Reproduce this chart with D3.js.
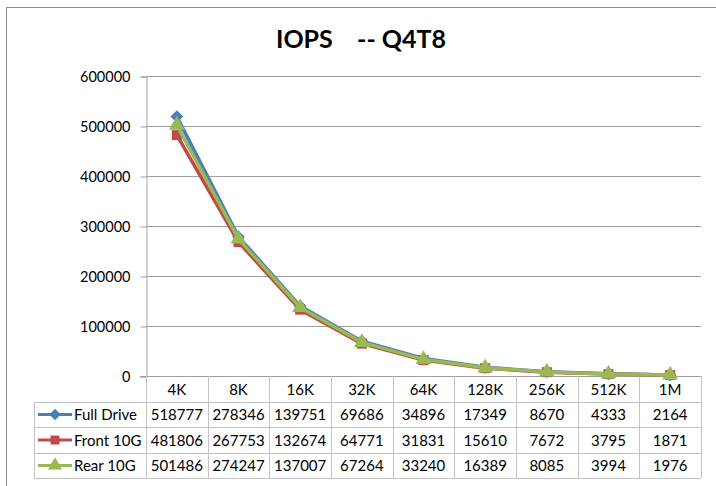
<!DOCTYPE html>
<html>
<head>
<meta charset="utf-8">
<script src="https://d3js.org/d3.v7.min.js"></script>
<style>
  body { margin: 0; background: #fff; }
  text { font-family: Lato, "Open Sans", sans-serif; fill: #000; }
</style>
</head>
<body>
<div id="my_dataviz"></div>
<script>

// data
var blockSizes = ["4K", "8K", "16K", "32K", "64K", "128K", "256K", "512K", "1M"];
var fullDrive = [518777, 278346, 139751, 69686, 34896, 17349, 8670, 4333, 2164];
var front10G  = [481806, 267753, 132674, 64771, 31831, 15610, 7672, 3795, 1871];
var rear10G   = [501486, 274247, 137007, 67264, 33240, 16389, 8085, 3994, 1976];
var seriesNames = ["Full Drive", "Front 10G", "Rear 10G"];
var yTicks = [0, 100000, 200000, 300000, 400000, 500000, 600000];

var seriesValues = [fullDrive, front10G, rear10G];
var colors = ["#4a7ebb", "#be4b48", "#98b954"];
// diamond = rotated square
var symbols = [d3.symbolSquare, d3.symbolSquare, d3.symbolTriangle];
var symbolRot = [45, 0, 0];
var symbolSizes = [80, 100, 110];

var W = 716, H = 486;
var svg = d3.select("#my_dataviz")
  .append("svg")
  .attr("width", W)
  .attr("height", H);

// chart frame (runs off the right and bottom edge)
svg.append("rect")
  .attr("x", 6.5).attr("y", 7.5)
  .attr("width", 730).attr("height", 500)
  .attr("fill", "#fff")
  .attr("stroke", "#8c8c8c")
  .attr("stroke-width", 1);

// title
svg.append("text")
  .attr("x", 361)
  .attr("y", 48)
  .attr("text-anchor", "middle")
  .style("font-size", "25px")
  .style("font-weight", "bold")
  .style("white-space", "pre")
  .text("IOPS    -- Q4T8");

// scales
var plotLeft = 146, plotRight = 701, plotTop = 76, plotBottom = 376;
var x = d3.scaleBand()
  .domain(blockSizes)
  .range([plotLeft, plotRight])
  .padding(0);
var y = d3.scaleLinear()
  .domain([0, 600000])
  .range([plotBottom, plotTop]);

// gridlines
svg.append("g")
  .selectAll("line")
  .data(yTicks.filter(function(d) { return d > 0; }))
  .enter()
  .append("line")
  .attr("x1", plotLeft).attr("x2", plotRight)
  .attr("y1", function(d) { return Math.round(y(d)) + 0.5; })
  .attr("y2", function(d) { return Math.round(y(d)) + 0.5; })
  .attr("stroke", "#9f9f9f")
  .attr("stroke-width", 1);

// y axis
var yAxis = svg.append("g")
  .attr("transform", "translate(" + (plotLeft + 0.5) + ",0.5)")
  .call(d3.axisLeft(y).tickValues(yTicks).tickSize(6).tickPadding(10).tickFormat(d3.format("d")));
yAxis.select(".domain").attr("stroke", "#9f9f9f");
yAxis.selectAll(".tick line").attr("stroke", "#9f9f9f");
yAxis.selectAll("text")
  .style("font-size", "14.5px")
  .style("font-family", "Lato, 'Open Sans', sans-serif")
  .attr("fill", "#000");

// x axis baseline
svg.append("line")
  .attr("x1", plotLeft - 6).attr("x2", plotRight)
  .attr("y1", plotBottom + 0.5).attr("y2", plotBottom + 0.5)
  .attr("stroke", "#9f9f9f");

// data table
var tableLeft = 34;
var rowEdges = [plotBottom, 402, 427, 453, 478];
var gridColor = "#c3c3c3";
var table = svg.append("g");

// vertical lines: header row spans only the category columns
var colEdges = blockSizes.map(function(d) { return x(d); }).concat([plotRight]);
table.selectAll(".vline")
  .data(colEdges)
  .enter()
  .append("line")
  .attr("x1", function(d) { return Math.round(d) + 0.5; })
  .attr("x2", function(d) { return Math.round(d) + 0.5; })
  .attr("y1", plotBottom)
  .attr("y2", rowEdges[4])
  .attr("stroke", gridColor);
table.append("line")
  .attr("x1", tableLeft + 0.5).attr("x2", tableLeft + 0.5)
  .attr("y1", rowEdges[1]).attr("y2", rowEdges[4])
  .attr("stroke", gridColor);
table.selectAll(".hline")
  .data(rowEdges.slice(1))
  .enter()
  .append("line")
  .attr("x1", tableLeft).attr("x2", plotRight)
  .attr("y1", function(d) { return d + 0.5; })
  .attr("y2", function(d) { return d + 0.5; })
  .attr("stroke", gridColor);

// category labels
table.selectAll(".cat")
  .data(blockSizes)
  .enter()
  .append("text")
  .attr("x", function(d) { return x(d) + x.bandwidth() / 2; })
  .attr("y", (rowEdges[0] + rowEdges[1]) / 2 + 5.5)
  .attr("text-anchor", "middle")
  .style("font-size", "15px")
  .text(function(d) { return d; });

// value rows + legend keys
seriesValues.forEach(function(vals, i) {
  var cy = (rowEdges[i + 1] + rowEdges[i + 2]) / 2;
  table.append("g")
    .selectAll("text")
    .data(vals)
    .enter()
    .append("text")
    .attr("x", function(d, j) { return x(blockSizes[j]) + x.bandwidth() / 2; })
    .attr("y", cy + 5.5)
    .attr("text-anchor", "middle")
    .style("font-size", "15px")
    .text(function(d) { return d; });

  table.append("line")
    .attr("x1", 38).attr("x2", 72)
    .attr("y1", cy).attr("y2", cy)
    .attr("stroke", colors[i])
    .attr("stroke-width", 3);
  table.append("path")
    .attr("d", d3.symbol().type(symbols[i]).size(symbolSizes[i] * 0.8)())
    .attr("transform", "translate(55," + cy + ") rotate(" + symbolRot[i] + ")")
    .attr("fill", colors[i]);
  table.append("text")
    .attr("x", 74)
    .attr("y", cy + 5.5)
    .style("font-size", "15px")
    .text(seriesNames[i]);
});

// lines and markers
var line = d3.line()
  .x(function(d, j) { return x(blockSizes[j]) + x.bandwidth() / 2; })
  .y(function(d) { return y(d); });

seriesValues.forEach(function(vals, i) {
  svg.append("path")
    .datum(vals)
    .attr("d", line)
    .attr("fill", "none")
    .attr("stroke", colors[i])
    .attr("stroke-width", 3.5)
    .attr("stroke-linejoin", "round");
  svg.append("g")
    .selectAll("path")
    .data(vals)
    .enter()
    .append("path")
    .attr("d", d3.symbol().type(symbols[i]).size(symbolSizes[i])())
    .attr("transform", function(d, j) {
      return "translate(" + (x(blockSizes[j]) + x.bandwidth() / 2) + "," + y(d) + ") rotate(" + symbolRot[i] + ")";
    })
    .attr("fill", colors[i]);
});

</script>
</body>
</html>
